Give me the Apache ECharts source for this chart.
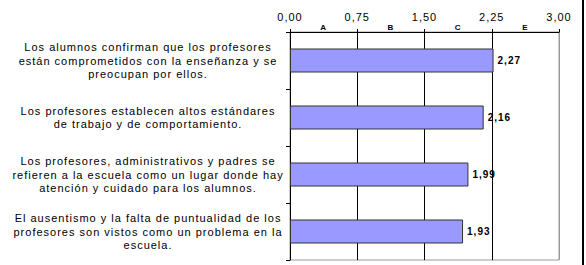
<!DOCTYPE html>
<html><head><meta charset="utf-8">
<script src="https://cdn.jsdelivr.net/npm/echarts@6/dist/echarts.min.js"></script>
<style>html,body{margin:0;padding:0;background:#fff}#c{width:586px;height:265px;letter-spacing:1px}</style>
</head><body><div id="c"></div>
<script>
const categories = [
  "Los alumnos confirman que los profesores\nestán comprometidos con la enseñanza y se\npreocupan por ellos.",
  "Los profesores establecen altos estándares\nde trabajo y de comportamiento.",
  "Los profesores, administrativos y padres se\nrefieren a la escuela como un lugar donde hay\natención y cuidado para los alumnos.",
  "El ausentismo y la falta de puntualidad de los\nprofesores son vistos como un problema en la\nescuela."
];
const values = [2.27, 2.16, 1.99, 1.93];
const bandLabels = ["A", "B", "C", "E"];
const fmt = v => v.toFixed(2).replace('.', ',');
const chart = echarts.init(document.getElementById('c'), null, { renderer: 'svg' });
chart.setOption({
  animation: false,
  textStyle: { fontFamily: 'Liberation Sans, Arial, sans-serif' },
  grid: { left: 290, right: 27, top: 32, bottom: 5, show: true, borderColor: '#999', borderWidth: 1 },
  xAxis: [
    { type: 'value', position: 'top', min: 0, max: 3, interval: 0.75,
      axisLine: { show: true, lineStyle: { color: '#000', width: 1 } },
      axisTick: { show: true, length: 3, lineStyle: { color: '#000' } },
      axisLabel: { formatter: fmt, fontSize: 11, color: '#000', margin: 10 },
      splitLine: { show: true, lineStyle: { color: ['#000', '#000', '#000', '#000', '#999'], width: 1 } } },
    { type: 'category', position: 'top', data: bandLabels, offset: 0,
      axisLine: { show: false }, axisTick: { show: false }, splitLine: { show: false },
      axisLabel: { fontSize: 8, fontWeight: 'bold', color: '#000', margin: 1 } }
  ],
  yAxis: {
    type: 'category', inverse: true, data: categories,
    axisLine: { show: true, lineStyle: { color: '#000', width: 1 } },
    axisTick: { show: true, length: 4, lineStyle: { color: '#000' } },
    axisLabel: { fontSize: 11, color: '#000', align: 'center', margin: 142, lineHeight: 13.5 }
  },
  series: [{
    type: 'bar', data: values, xAxisIndex: 0,
    barWidth: 24,
    itemStyle: { color: '#9999FF', borderColor: '#333', borderWidth: 1 },
    label: { show: true, position: 'right', distance: 4, formatter: p => fmt(p.value),
      fontSize: 10, fontWeight: 'bold', color: '#000' }
  }],
  graphic: [{ type: 'rect', shape: { x: 582, y: 0, width: 2, height: 265 }, style: { fill: '#000' } }]
});
</script></body></html>
